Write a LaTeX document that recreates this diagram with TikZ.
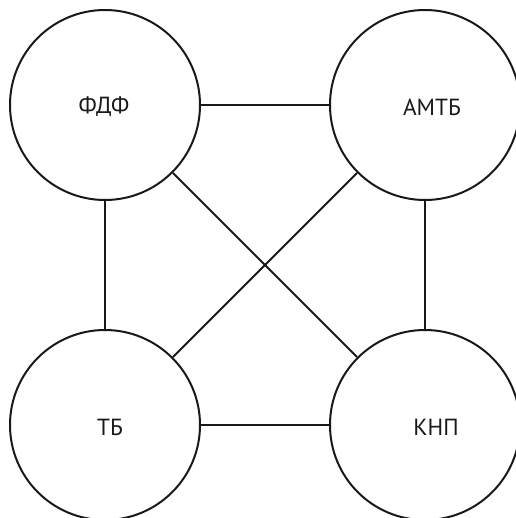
\documentclass[tikz,border=0pt]{standalone}
\usepackage{fontspec}
\setmainfont{PT Sans}
\begin{document}
\begin{tikzpicture}[x=0.75pt,y=-0.75pt,
  bubble/.style={circle,draw=black!90,line width=1.5pt,minimum size=142.5pt,inner sep=0pt},
  lbl/.style={font=\fontsize{17.5pt}{20pt}\selectfont,text=black!90,inner sep=0pt},
  link/.style={draw=black!90,line width=1.5pt}]
\useasboundingbox (0,0) rectangle (516,518);
\node[bubble] (a) at (105,105) {};
\node[bubble] (b) at (425,105) {};
\node[bubble] (c) at (105,425) {};
\node[bubble] (d) at (425,425) {};
\node[lbl] (ta) at (104,107) {ФДФ};
\node[lbl] (tb) at (432,107) {АМТБ};
\node[lbl] (tc) at (110,427) {ТБ};
\node[lbl] (td) at (436,427) {КНП};
\draw[link] (a) -- (b);
\draw[link] (a) -- (c);
\draw[link] (b) -- (d);
\draw[link] (c) -- (d);
\draw[link] (a) -- (d);
\draw[link] (b) -- (c);
\end{tikzpicture}
\end{document}
